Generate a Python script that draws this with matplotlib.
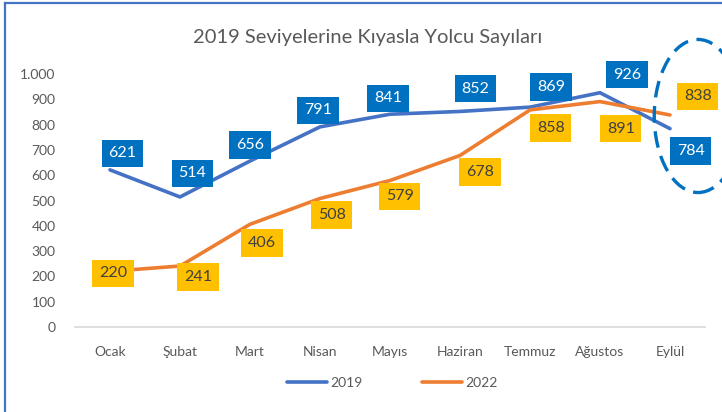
import matplotlib
matplotlib.use("Agg")
import matplotlib.pyplot as plt
from matplotlib.patches import Ellipse
from matplotlib.lines import Line2D
from matplotlib.ticker import FuncFormatter

plt.rcParams['font.family'] = ['Lato', 'DejaVu Sans']

months = ["Ocak", "Şubat", "Mart", "Nisan", "Mayıs", "Haziran", "Temmuz", "Ağustos", "Eylül"]
y2019 = [621, 514, 656, 791, 841, 852, 869, 926, 784]
y2022 = [220, 241, 406, 508, 579, 678, 858, 891, 838]
yticks = [0, 100, 200, 300, 400, 500, 600, 700, 800, 900, 1000]

# label offsets in points (placement style)
off2019 = [(9, 12), (9, 17), (0, 11.5), (-1.5, 12), (-1.5, 11.5), (11, 16.5), (15, 14.5), (19.5, 13), (15, -16)]
off2022 = [(2, -1.5), (13, -8), (8.5, -13.5), (8.5, -12), (7, -11.5), (14.5, -12), (15, -13), (15, -19.5), (20, 13.5)]

W, H = 722, 412
fig = plt.figure(figsize=(W / 100, H / 100), dpi=100)
ax = fig.add_axes([75 / W, (H - 327) / H, 630 / W, (327 - 74) / H])

x = list(range(len(months)))
c19, c22 = "#4472C4", "#ED7D31"
ax.plot(x, y2019, color=c19, lw=2.6, solid_capstyle='round', solid_joinstyle='round', label="2019", zorder=3)
ax.plot(x, y2022, color=c22, lw=2.6, solid_capstyle='round', solid_joinstyle='round', label="2022", zorder=3)

ax.set_xlim(-0.5, len(months) - 0.5)
ax.set_ylim(0, 1000)
ax.set_yticks(yticks)
ax.yaxis.set_major_formatter(FuncFormatter(lambda v, p: f"{int(v):,}".replace(",", ".")))
ax.set_xticks(x)
ax.set_xticklabels(months)
ax.tick_params(axis='both', length=0, labelsize=10, labelcolor="#595959")
ax.tick_params(axis='y', pad=14)
ax.tick_params(axis='x', pad=14)
for s in ["top", "right", "left"]:
    ax.spines[s].set_visible(False)
ax.spines["bottom"].set_color("#D9D9D9")
ax.spines["bottom"].set_linewidth(1.2)

for i, v in enumerate(y2019):
    ax.annotate(str(v), (i, v), xytext=off2019[i], textcoords='offset points',
                ha='center', va='center', fontsize=11.5, color='white', zorder=5,
                annotation_clip=False,
                bbox=dict(boxstyle='square,pad=0.42', fc='#0070C0', ec='none'))
for i, v in enumerate(y2022):
    ax.annotate(str(v), (i, v), xytext=off2022[i], textcoords='offset points',
                ha='center', va='center', fontsize=11.5, color='#404040', zorder=5,
                annotation_clip=False,
                bbox=dict(boxstyle='square,pad=0.42', fc='#FFC000', ec='none'))

# dashed ellipse highlighting the last month
ell = Ellipse((8.40, 834), width=1.25, height=605, fill=False, ec="#0070C0", lw=2.4,
              linestyle=(0, (5, 2.6)), clip_on=False, zorder=6)
ax.add_patch(ell)

fig.text(368 / W, 1 - 38 / H, "2019 Seviyelerine Kıyasla Yolcu Sayıları", ha='center', va='center',
         fontsize=14.5, color="#595959")

fig.legend(loc='center', bbox_to_anchor=(392 / W, 1 - 383 / H), ncol=2, frameon=False,
           fontsize=10, labelcolor="#595959", handlelength=2.9, handletextpad=0.2,
           columnspacing=4.3)

# chart frame (partially cropped)
fig.add_artist(Line2D([5 / W, 5 / W], [0, 1 - 3 / H], color="#4472C4", lw=1.6))
fig.add_artist(Line2D([5 / W, 1], [1 - 3 / H, 1 - 3 / H], color="#4472C4", lw=1.6))

fig.savefig("out.png", dpi=100)
